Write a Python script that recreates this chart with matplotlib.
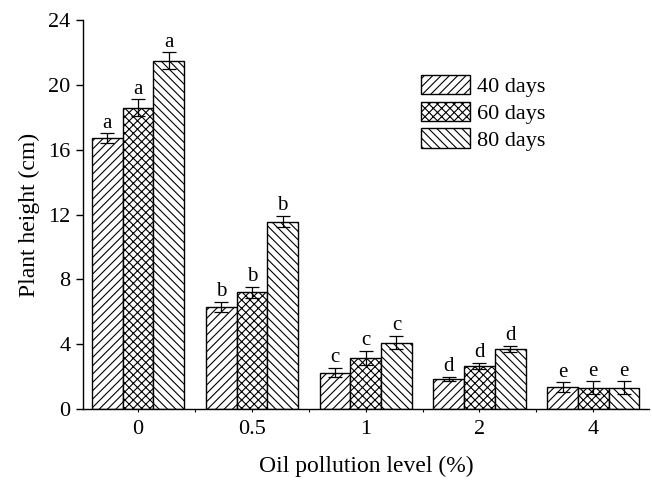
import matplotlib
matplotlib.use("Agg")
import matplotlib.pyplot as plt
import numpy as np

categories = ["0", "0.5", "1", "2", "4"]
series_names = ["40 days", "60 days", "80 days"]
d40 = [16.7, 6.3, 2.25, 1.85, 1.35]
d60 = [18.6, 7.2, 3.15, 2.65, 1.3]
d80 = [21.5, 11.55, 4.1, 3.7, 1.3]
e40 = [0.3, 0.3, 0.3, 0.15, 0.3]
e60 = [0.5, 0.35, 0.45, 0.2, 0.4]
e80 = [0.5, 0.35, 0.4, 0.2, 0.4]
letters = ["a", "b", "c", "d", "e"]

plt.rcParams['font.family'] = ['Liberation Serif', 'DejaVu Serif']
plt.rcParams['hatch.linewidth'] = 0.8

fig = plt.figure(figsize=(6.52, 4.8), dpi=100)
ax = fig.add_axes([83/652, 71/480, 566/652, 389/480])

x = np.arange(len(categories))
w = 0.27
hatches = ['////', 'xxxx', '\\\\\\\\']
vals = [d40, d60, d80]
errs = [e40, e60, e80]
for i, (v, e, h, name) in enumerate(zip(vals, errs, hatches, series_names)):
    pos = x + (i - 1) * w
    ax.bar(pos, v, w, facecolor='white', edgecolor='black', hatch=h,
           linewidth=1.0, label=name, zorder=2)
    ax.errorbar(pos, v, yerr=e, fmt='none', ecolor='black', elinewidth=0.9,
                capsize=5, capthick=0.9, zorder=3)
    for p, vv, ee, lt in zip(pos, v, e, letters):
        ax.annotate(lt, (p, vv + ee), xytext=(0, 0.5), textcoords='offset points',
                    ha='center', va='bottom', fontsize=15)

ax.set_xlim(-0.484, 4.49)
ax.set_ylim(0, 24)
ax.set_yticks(np.arange(0, 25, 4))
ax.set_xticks(x)
ax.set_xticklabels(categories)
ax.set_xticks(x[:-1] + 0.5, minor=True)
ax.tick_params(axis='x', which='both', direction='out', length=2, width=0.8, labelsize=16, pad=6)
ax.tick_params(axis='y', which='major', direction='out', length=5, width=1, labelsize=16, pad=4)
ax.spines['top'].set_visible(False)
ax.spines['right'].set_visible(False)
ax.spines['left'].set_linewidth(1.0)
ax.spines['bottom'].set_linewidth(1.0)

ax.set_ylabel("Plant height (cm)", fontsize=17, labelpad=6)
ax.set_xlabel("Oil pollution level (%)", fontsize=17, labelpad=12)

leg = ax.legend(loc='upper left', bbox_to_anchor=(421/652, 1 - 75/480),
                bbox_transform=fig.transFigure, frameon=False, fontsize=16,
                handlelength=2.2, handleheight=0.95, labelspacing=0.2,
                handletextpad=0.3, borderpad=0, borderaxespad=0)

fig.savefig("out.png", dpi=100)
